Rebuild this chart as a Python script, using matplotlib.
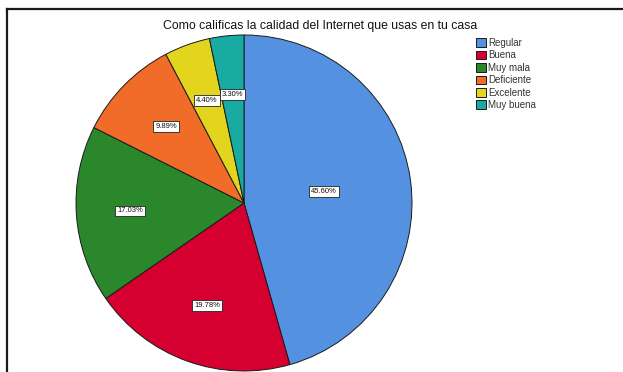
import numpy as np
import matplotlib
matplotlib.use('Agg')
import matplotlib.pyplot as plt
from matplotlib.lines import Line2D

plt.rcParams['font.family'] = ['Liberation Sans', 'DejaVu Sans']

# Calidad del internet en casa (porcentajes)
categorias = ['Regular', 'Buena', 'Muy mala', 'Deficiente', 'Excelente', 'Muy buena']
porcentajes = [45.60, 19.78, 17.03, 9.89, 4.40, 3.30]
colores = ['#5591E1', '#D5002F', '#2B872B', '#F06C28', '#E3D41E', '#17ABA2']
titulo = 'Como calificas la calidad del Internet que usas en tu casa'

# distancia de cada etiqueta al centro (fraccion del radio)
dist_etiqueta = [0.48, 0.65, 0.68, 0.65, 0.65, 0.65]

W, H = 623, 372
fig = plt.figure(figsize=(W / 100, H / 100), dpi=100)
ax = fig.add_axes([0, 0, 1, 1])

cx, cy, r = 244, H - 203, 168
wedges, _ = ax.pie(porcentajes, colors=colores, startangle=90, counterclock=False,
                   center=(cx, cy), radius=r, normalize=True,
                   wedgeprops=dict(edgecolor='#1a1a1a', linewidth=0.7))

# etiquetas de porcentaje con recuadro blanco
for w, p, d in zip(wedges, porcentajes, dist_etiqueta):
    ang = np.deg2rad((w.theta1 + w.theta2) / 2)
    ax.text(cx + d * r * np.cos(ang), cy + d * r * np.sin(ang), f'{p:.2f}%',
            ha='center', va='center', fontsize=5.5, color='#111111',
            bbox=dict(boxstyle='square,pad=0.25', fc='white', ec='#222222', lw=0.6))

ax.set_xlim(0, W)
ax.set_ylim(0, H)
ax.set_aspect('auto')
ax.axis('off')

ax.text(320, H - 26, titulo, ha='center', va='center', fontsize=8.8, color='#111111')

leg = ax.legend(wedges, categorias, loc='upper left', bbox_to_anchor=(476 / W, (H - 38) / H),
                frameon=False, fontsize=7, handlelength=1.0, handleheight=1.0,
                handletextpad=0.25, labelspacing=0.25, borderpad=0, borderaxespad=0)
for t in leg.get_texts():
    t.set_color('#333333')

# marco superior e izquierdo
fig.add_artist(Line2D([7 / W, 622 / W], [(H - 9) / H, (H - 9) / H], color='#1a1a1a', lw=1.6))
fig.add_artist(Line2D([7 / W, 7 / W], [0, (H - 9) / H], color='#1a1a1a', lw=1.6))

fig.savefig('out.png', dpi=100, facecolor='white')
